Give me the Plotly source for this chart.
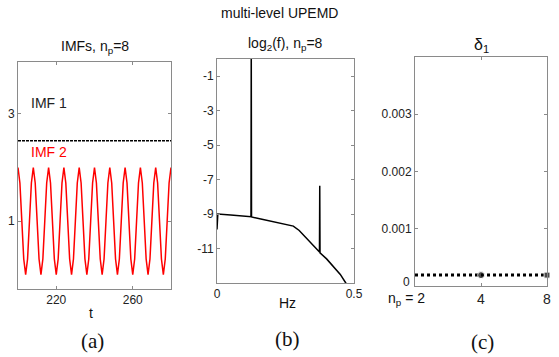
import plotly.graph_objects as go

W, H = 559, 357

# ---------------- data ----------------
# panel (a): IMFs
t_imf = list(range(200, 281))
imf2 = [2.0, 1.71, 1.0, 0.29, 0.0, 0.29, 1.0, 1.71,
        2.0, 1.71, 1.0, 0.29, 0.0, 0.29, 1.0, 1.71,
        2.0, 1.71, 1.0, 0.29, 0.0, 0.29, 1.0, 1.71,
        2.0, 1.71, 1.0, 0.29, 0.0, 0.29, 1.0, 1.71,
        2.0, 1.71, 1.0, 0.29, 0.0, 0.29, 1.0, 1.71,
        2.0, 1.71, 1.0, 0.29, 0.0, 0.29, 1.0, 1.71,
        2.0, 1.71, 1.0, 0.29, 0.0, 0.29, 1.0, 1.71,
        2.0, 1.71, 1.0, 0.29, 0.0, 0.29, 1.0, 1.71,
        2.0, 1.71, 1.0, 0.29, 0.0, 0.29, 1.0, 1.71,
        2.0, 1.71, 1.0, 0.29, 0.0, 0.29, 1.0, 1.71,
        2.0]
t_imf1 = [200, 280]
imf1 = [2.5, 2.5]

# panel (b): log2 spectrum
freq = [0.0, 0.003, 0.05, 0.10, 0.124, 0.125, 0.125, 0.126, 0.16, 0.20, 0.24,
        0.2786, 0.30, 0.32, 0.339, 0.36, 0.374, 0.375, 0.375, 0.376, 0.40,
        0.425, 0.45, 0.470, 0.48]
logpow = [-9.9, -9.0, -9.05, -9.1, -9.15, 1.0, -9.16, -9.17, -9.28, -9.42, -9.55,
          -9.7, -9.95, -10.3, -10.6, -10.95, -11.2, -7.35, -11.22, -11.25, -11.6,
          -12.05, -12.5, -13.0, -13.3]

# panel (c): delta_1 vs n_p
n_p = [2, 4, 8]
delta1 = [0.00019, 0.00019, 0.00019]

# ---------------- helpers ----------------
def px_x(p):
    return p / W

def px_y(p):
    return 1 - p / H

FONT = "Liberation Sans, Arial, sans-serif"
AX = "#8a8a8a"

fig = go.Figure()

fig.add_trace(go.Scatter(x=t_imf, y=imf2, mode="lines",
                         line=dict(color="#ff0000", width=1.5),
                         xaxis="x", yaxis="y", showlegend=False))
fig.add_trace(go.Scatter(x=t_imf1, y=imf1, mode="lines",
                         line=dict(color="#000000", width=1.5, dash="3px,1px"),
                         xaxis="x", yaxis="y", showlegend=False))

fig.add_trace(go.Scatter(x=freq, y=logpow, mode="lines",
                         line=dict(color="#000000", width=1.5),
                         xaxis="x2", yaxis="y2", showlegend=False))

fig.add_trace(go.Scatter(x=n_p, y=delta1, mode="lines+markers",
                         line=dict(color="#000000", width=3, dash="dot"),
                         marker=dict(color="#000000", size=[6, 7, 6],
                                     symbol=["square", "circle", "square"]),
                         cliponaxis=False,
                         xaxis="x3", yaxis="y3", showlegend=False))

common = dict(showgrid=False, zeroline=False, showline=True, linecolor=AX,
              linewidth=1, mirror="ticks", ticks="inside", ticklen=3,
              tickcolor=AX, automargin=False,
              tickfont=dict(family=FONT, size=12, color="#222"))

fig.update_layout(
    xaxis=dict(domain=[px_x(18), px_x(171)], range=[200, 280],
               tickvals=[220, 260], anchor="y", **common),
    yaxis=dict(domain=[px_y(289), px_y(62)], range=[-0.27, 3.97],
               tickvals=[1, 3], anchor="x", **common),
    xaxis2=dict(domain=[px_x(217), px_x(354)], range=[0, 0.5],
                tickvals=[0, 0.5], ticktext=["0", "0.5"], anchor="y2", **common),
    yaxis2=dict(domain=[px_y(283), px_y(59)], range=[-13, 0],
                tickvals=[-1, -3, -5, -7, -9, -11],
                ticktext=["-1", "-3", "-5", "-7", "-9", "-11"], anchor="x2", **common),
    xaxis3=dict(domain=[px_x(415), px_x(547)], type="log",
                range=[0.30103, 0.90309],
                tickvals=[2, 4, 8], ticktext=["", "4", "8"], anchor="y3",
                **{**common, "tickfont": dict(family=FONT, size=14, color="#222")}),
    yaxis3=dict(domain=[px_y(286), px_y(57)], range=[0, 0.004],
                tickvals=[0, 0.001, 0.002, 0.003],
                ticktext=["", "0.001", "0.002", "0.003"], anchor="x3", **common),
)

ann = []
def A(text, x, y, size=12, family=FONT, color="#111", xanchor="center", yanchor="middle"):
    ann.append(dict(text=text, x=px_x(x), y=px_y(y), xref="paper", yref="paper",
                    showarrow=False, font=dict(family=family, size=size, color=color),
                    xanchor=xanchor, yanchor=yanchor))

A("multi-level UPEMD", 279, 13, size=14)
A("IMFs, n<sub>p</sub>=8", 95, 47, size=14)
A("log<sub>2</sub>(f), n<sub>p</sub>=8", 285, 44, size=14)
A("δ<sub>1</sub>", 481, 46, size=16)
A("IMF 1", 29, 103, size=14, color="#222", xanchor="left")
A("IMF 2", 29, 152, size=14, color="#ff0000", xanchor="left")
A("t", 91, 313, size=14)
A("Hz", 287, 303, size=14)
A("0", 412, 282, size=12, color="#222", xanchor="right")
A("n<sub>p</sub> = 2", 427, 299, size=14, xanchor="right")
A("(a)", 92, 341, size=21, family="Liberation Serif, Times New Roman, serif")
A("(b)", 287, 339, size=21, family="Liberation Serif, Times New Roman, serif")
A("(c)", 482, 342, size=21, family="Liberation Serif, Times New Roman, serif")

fig.update_layout(annotations=ann, width=W, height=H,
                  margin=dict(l=0, r=0, t=0, b=0),
                  paper_bgcolor="white", plot_bgcolor="white")

fig.write_html("out.html", config={"displayModeBar": False},
               post_script="document.body.style.margin='0';document.body.style.overflow='hidden';")
